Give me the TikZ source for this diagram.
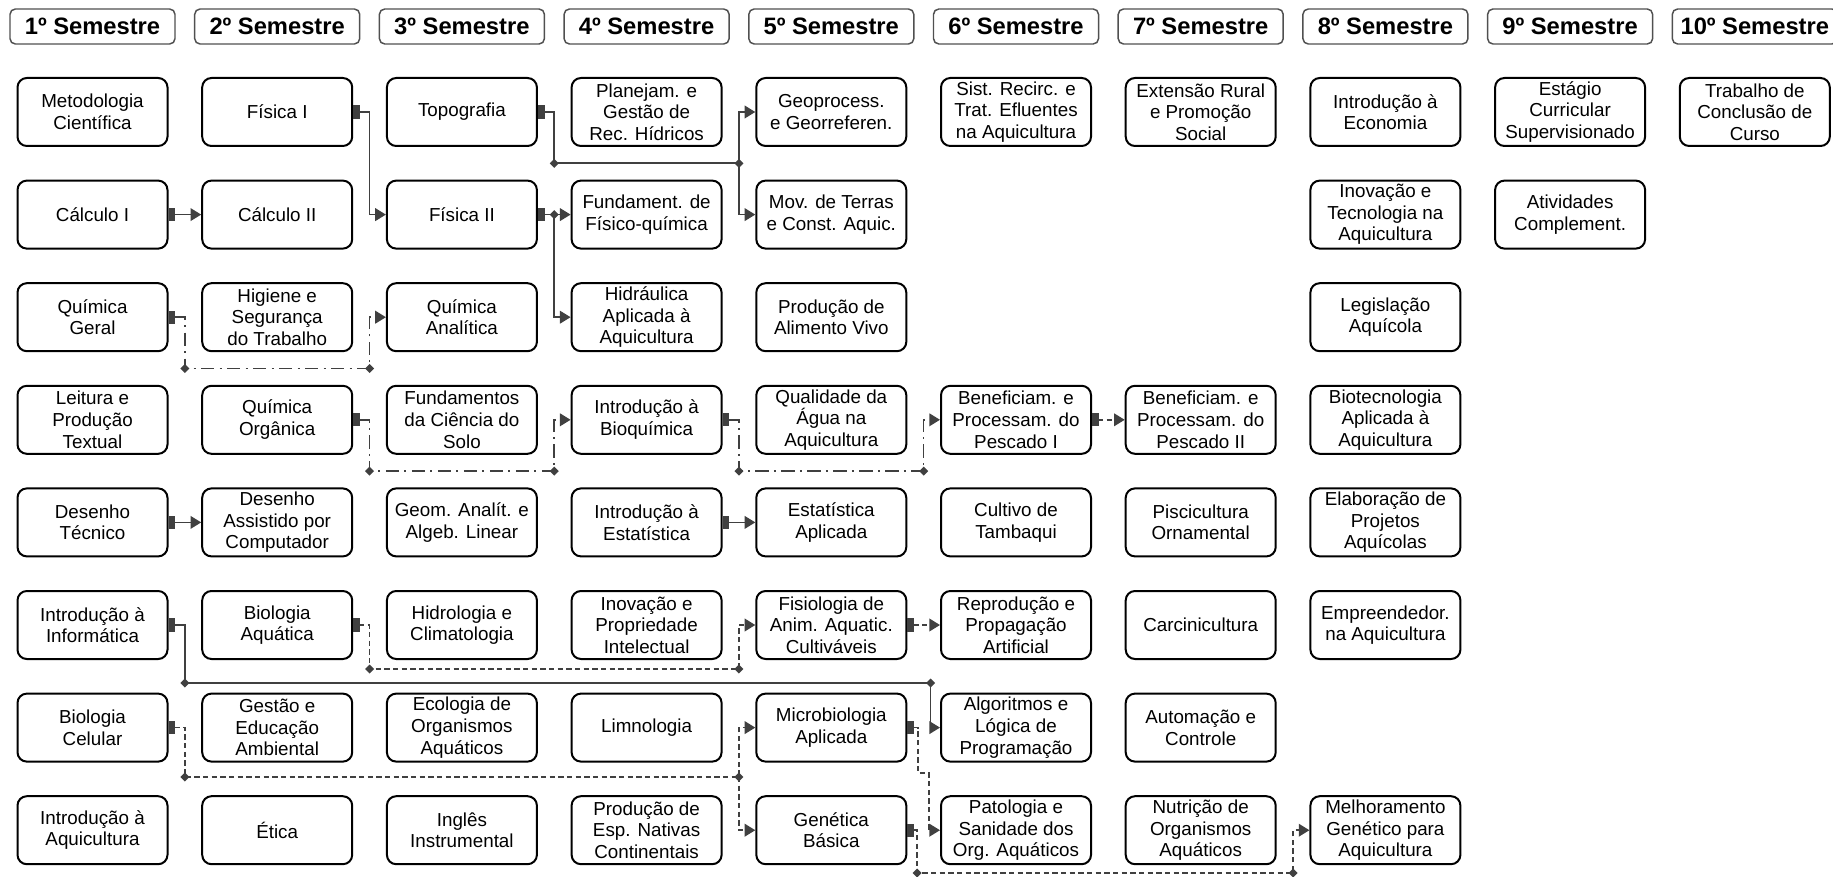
\documentclass[tikz,border=0pt]{standalone}
\usepackage{fontspec}
\setmainfont{Liberation Sans}
\usetikzlibrary{arrows.meta}
\definecolor{cg}{HTML}{404040}
\definecolor{hb}{HTML}{505050}
\tikzset{
  course/.style={draw=black, line width=1.5pt, rounded corners=7pt, fill=white,
    minimum width=112.5pt, minimum height=51pt, inner sep=0pt, align=center,
    font=\fontsize{14.1}{16.2}\selectfont},
  sem/.style={draw=hb, line width=1.1pt, rounded corners=4pt, fill=white,
    minimum width=123.75pt, minimum height=26.25pt, inner sep=0pt,
    font=\fontsize{17.8}{20}\selectfont\bfseries},
  link/.style={draw=cg, line width=1.2pt, -{Triangle[length=8pt,width=9.5pt]}},
  srcm/.style={{Rectangle[length=5pt,width=10pt]}-{Triangle[length=8pt,width=9.5pt]}},
  dd/.style={dash pattern=on 10pt off 4pt on 1.5pt off 4pt},
  dsh/.style={dash pattern=on 4pt off 2.5pt},
}
\begin{document}
\begin{tikzpicture}[x=0.75pt,y=-0.75pt]
\useasboundingbox (0,0) rectangle (1833,877);
% headers
\node[sem] (s1) at (92.5,26.5) {1º Semestre};
\node[sem] (s2) at (277.2,26.5) {2º Semestre};
\node[sem] (s3) at (461.9,26.5) {3º Semestre};
\node[sem] (s4) at (646.6,26.5) {4º Semestre};
\node[sem] (s5) at (831.3,26.5) {5º Semestre};
\node[sem] (s6) at (1016.0,26.5) {6º Semestre};
\node[sem] (s7) at (1200.7,26.5) {7º Semestre};
\node[sem] (s8) at (1385.4,26.5) {8º Semestre};
\node[sem] (s9) at (1570.1,26.5) {9º Semestre};
\node[sem] (s10) at (1754.8,26.5) {10º Semestre};
% column 1
\node[course] (c1r1) at (92.5,112) {Metodologia\\Científica};
\node[course] (c1r2) at (92.5,214.6) {Cálculo I};
\node[course] (c1r3) at (92.5,317.2) {Química\\Geral};
\node[course] (c1r4) at (92.5,419.8) {Leitura e\\Produção\\Textual};
\node[course] (c1r5) at (92.5,522.4) {Desenho\\Técnico};
\node[course] (c1r6) at (92.5,625) {Introdução à\\Informática};
\node[course] (c1r7) at (92.5,727.6) {Biologia\\Celular};
\node[course] (c1r8) at (92.5,830.2) {Introdução à\\Aquicultura};
% column 2
\node[course] (c2r1) at (277.2,112) {Física I};
\node[course] (c2r2) at (277.2,214.6) {Cálculo II};
\node[course] (c2r3) at (277.2,317.2) {Higiene e\\Segurança\\do Trabalho};
\node[course] (c2r4) at (277.2,419.8) {Química\\Orgânica};
\node[course] (c2r5) at (277.2,522.4) {Desenho\\Assistido por\\Computador};
\node[course] (c2r6) at (277.2,625) {Biologia\\Aquática};
\node[course] (c2r7) at (277.2,727.6) {Gestão e\\Educação\\Ambiental};
\node[course] (c2r8) at (277.2,830.2) {Ética};
% column 3
\node[course] (c3r1) at (461.9,112) {Topografia};
\node[course] (c3r2) at (461.9,214.6) {Física II};
\node[course] (c3r3) at (461.9,317.2) {Química\\Analítica};
\node[course] (c3r4) at (461.9,419.8) {Fundamentos\\da Ciência do\\Solo};
\node[course] (c3r5) at (461.9,522.4) {Geom. Analít. e\\Algeb. Linear};
\node[course] (c3r6) at (461.9,625) {Hidrologia e\\Climatologia};
\node[course] (c3r7) at (461.9,727.6) {Ecologia de\\Organismos\\Aquáticos};
\node[course] (c3r8) at (461.9,830.2) {Inglês\\Instrumental};
% column 4
\node[course] (c4r1) at (646.6,112) {Planejam. e\\Gestão de\\Rec. Hídricos};
\node[course] (c4r2) at (646.6,214.6) {Fundament. de\\Físico-química};
\node[course] (c4r3) at (646.6,317.2) {Hidráulica\\Aplicada à\\Aquicultura};
\node[course] (c4r4) at (646.6,419.8) {Introdução à\\Bioquímica};
\node[course] (c4r5) at (646.6,522.4) {Introdução à\\Estatística};
\node[course] (c4r6) at (646.6,625) {Inovação e\\Propriedade\\Intelectual};
\node[course] (c4r7) at (646.6,727.6) {Limnologia};
\node[course] (c4r8) at (646.6,830.2) {Produção de\\Esp. Nativas\\Continentais};
% column 5
\node[course] (c5r1) at (831.3,112) {Geoprocess.\\e Georreferen.};
\node[course] (c5r2) at (831.3,214.6) {Mov. de Terras\\e Const. Aquic.};
\node[course] (c5r3) at (831.3,317.2) {Produção de\\Alimento Vivo};
\node[course] (c5r4) at (831.3,419.8) {Qualidade da\\Água na\\Aquicultura};
\node[course] (c5r5) at (831.3,522.4) {Estatística\\Aplicada};
\node[course] (c5r6) at (831.3,625) {Fisiologia de\\Anim. Aquatic.\\Cultiváveis};
\node[course] (c5r7) at (831.3,727.6) {Microbiologia\\Aplicada};
\node[course] (c5r8) at (831.3,830.2) {Genética\\Básica};
% column 6
\node[course] (c6r1) at (1016.0,112) {Sist. Recirc. e\\Trat. Efluentes\\na Aquicultura};
\node[course] (c6r4) at (1016.0,419.8) {Beneficiam. e\\Processam. do\\Pescado I};
\node[course] (c6r5) at (1016.0,522.4) {Cultivo de\\Tambaqui};
\node[course] (c6r6) at (1016.0,625) {Reprodução e\\Propagação\\Artificial};
\node[course] (c6r7) at (1016.0,727.6) {Algoritmos e\\Lógica de\\Programação};
\node[course] (c6r8) at (1016.0,830.2) {Patologia e\\Sanidade dos\\Org. Aquáticos};
% column 7
\node[course] (c7r1) at (1200.7,112) {Extensão Rural\\e Promoção\\Social};
\node[course] (c7r4) at (1200.7,419.8) {Beneficiam. e\\Processam. do\\Pescado II};
\node[course] (c7r5) at (1200.7,522.4) {Piscicultura\\Ornamental};
\node[course] (c7r6) at (1200.7,625) {Carcinicultura};
\node[course] (c7r7) at (1200.7,727.6) {Automação e\\Controle};
\node[course] (c7r8) at (1200.7,830.2) {Nutrição de\\Organismos\\Aquáticos};
% column 8
\node[course] (c8r1) at (1385.4,112) {Introdução à\\Economia};
\node[course] (c8r2) at (1385.4,214.6) {Inovação e\\Tecnologia na\\Aquicultura};
\node[course] (c8r3) at (1385.4,317.2) {Legislação\\Aquícola};
\node[course] (c8r4) at (1385.4,419.8) {Biotecnologia\\Aplicada à\\Aquicultura};
\node[course] (c8r5) at (1385.4,522.4) {Elaboração de\\Projetos\\Aquícolas};
\node[course] (c8r6) at (1385.4,625) {Empreendedor.\\na Aquicultura};
\node[course] (c8r8) at (1385.4,830.2) {Melhoramento\\Genético para\\Aquicultura};
% columns 9, 10
\node[course] (c9r1) at (1570.1,112) {Estágio\\Curricular\\Supervisionado};
\node[course] (c9r2) at (1570.1,214.6) {Atividades\\Complement.};
\node[course] (c10r1) at (1754.8,112) {Trabalho de\\Conclusão de\\Curso};
% junction coordinates
\coordinate (jt1) at (554.25,163.3);
\coordinate (jt2) at (738.95,163.3);
\coordinate (jf) at (554.25,214.6);
\coordinate (jq1) at (184.85,368.5);
\coordinate (jq2) at (369.55,368.5);
\coordinate (jo1) at (369.55,471.1);
\coordinate (jo2) at (554.25,471.1);
\coordinate (jb1) at (738.95,471.1);
\coordinate (jb2) at (923.65,471.1);
\coordinate (ja1) at (369.55,669);
\coordinate (ja2) at (738.95,669);
\coordinate (ji1) at (184.85,683);
\coordinate (ji2) at (930.5,683);
\coordinate (jc1) at (184.85,777);
\coordinate (jc2) at (738.95,777);
\coordinate (jm1) at (918,773);
\coordinate (jm2) at (929,773);
\coordinate (jg1) at (917,873);
\coordinate (jg2) at (1293.05,873);
% solid links
\draw[link,srcm] (c1r2.east) -- (c2r2.west);
\draw[link,srcm] (c1r5.east) -- (c2r5.west);
\draw[link,srcm] (c4r5.east) -- (c5r5.west);
\draw[link,srcm] (c2r1.east) -| (369.55,214.6) -- (c3r2.west);
\draw[link,srcm] (c3r1.east) -| (jt1) -- (jt2) |- (c5r1.west);
\draw[link] (jt2) |- (c5r2.west);
\draw[link,srcm] (c3r2.east) -- (c4r2.west);
\draw[link] (jf) |- (c4r3.west);
\draw[link,srcm] (c1r6.east) -| (ji1) -- (ji2) |- (c6r7.west);
% dash-dot links
\draw[link,srcm,dd] (c1r3.east) -| (jq1) -- (jq2) |- (c3r3.west);
\draw[link,srcm,dd] (c2r4.east) -| (jo1) -- (jo2) |- (c4r4.west);
\draw[link,srcm,dd] (c4r4.east) -| (jb1) -- (jb2) |- (c6r4.west);
% dashed links
\draw[link,srcm,dsh] (c6r4.east) -- (c7r4.west);
\draw[link,srcm,dsh] (c5r6.east) -- (c6r6.west);
\draw[link,srcm,dsh] (c2r6.east) -| (ja1) -- (ja2) |- (c5r6.west);
\draw[link,srcm,dsh] (c1r7.east) -| (jc1) -- (jc2) |- (c5r7.west);
\draw[link,dsh] (jc2) |- (c5r8.west);
\draw[link,srcm,dsh] (c5r7.east) -| (jm1) -- (jm2) |- (c6r8.west);
\draw[link,srcm,dsh] (c5r8.east) -| (jg1) -- (jg2) |- (c8r8.west);
% junction diamonds
\foreach \c in {jt1,jt2,jf,jq1,jq2,jo1,jo2,jb1,jb2,ja1,ja2,ji1,ji2,jc1,jc2,jg1,jg2}
  \fill[cg] (\c) +(-4.5,0) -- +(0,-4.5) -- +(4.5,0) -- +(0,4.5) -- cycle;
\end{tikzpicture}
\end{document}
